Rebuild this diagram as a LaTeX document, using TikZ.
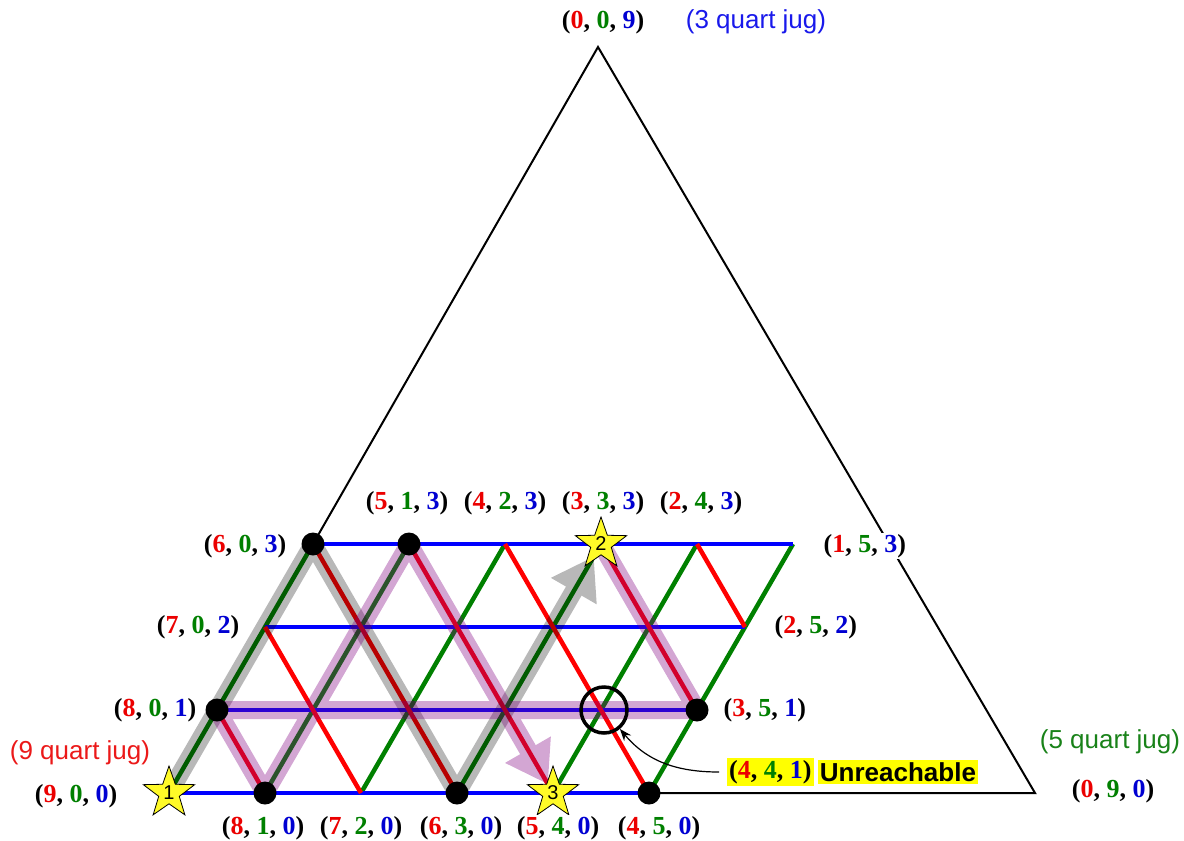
\documentclass[tikz,border=0pt]{standalone}
\usepackage{fontspec}
\setmainfont{Liberation Serif}
\newfontfamily\arialf{Liberation Sans}
\usetikzlibrary{shapes.geometric,arrows.meta,calc}
\definecolor{lblue}{RGB}{0,0,255}
\definecolor{lred}{RGB}{255,0,0}
\definecolor{lgreen}{RGB}{0,128,0}
\definecolor{tred}{RGB}{235,0,0}
\definecolor{tgreen}{RGB}{0,128,0}
\definecolor{tblue}{RGB}{0,0,210}
\definecolor{jblue}{RGB}{25,25,235}
\definecolor{jred}{RGB}{235,25,25}
\definecolor{jgreen}{RGB}{25,130,25}
\definecolor{hpurple}{RGB}{128,0,128}
\definecolor{hlyellow}{RGB}{255,255,0}
\definecolor{staryellow}{RGB}{255,250,40}
\newcommand{\tupl}[3]{\textbf{(\textcolor{tred}{#1}, \textcolor{tgreen}{#2}, \textcolor{tblue}{#3})}}
\begin{document}
\begin{tikzpicture}[x=1pt,y=-1pt,
  bl/.style={lblue,line width=4.5pt},
  gl/.style={lgreen,line width=4.5pt},
  rl/.style={lred,line width=4.5pt},
  band/.style={line width=18pt,line join=round},
  dot/.style={circle,fill=black,minimum size=23pt,inner sep=0pt},
  numstar/.style={star,star points=5,star point ratio=2.5,minimum size=54pt,inner sep=0pt,fill=staryellow,draw=black,line width=0.8pt,font=\arialf\fontsize{20}{20}\selectfont},
  tuplbl/.style={font=\fontsize{26}{30}\selectfont,inner sep=1.5pt,fill=white},
  jug/.style={font=\arialf\fontsize{26}{30}\selectfont,inner sep=0pt},
  hl/.style={fill=hlyellow,inner sep=2pt,font=\fontsize{26}{30}\selectfont},
]
\useasboundingbox (0,0) rectangle (1184,841);
% lattice points (a,b,c)
\foreach \b in {0,...,5} {
  \foreach \c in {0,...,3} {
    \pgfmathtruncatemacro\a{9-\b-\c}
    \coordinate (p\a\b\c) at ({169+96*\b+48*\c},{793-83*\c});
  }
}
\coordinate (apex) at (598,47);
\coordinate (corner) at (1035,793);

% big triangle
\draw[black,line width=2pt] (p603) -- (apex) -- (corner) -- (p450);

% green lines (constant b)
\draw[gl] (p900) -- (p603);
\draw[gl] (p810) -- (p513);
\draw[gl] (p720) -- (p423);
\draw[gl] (p630) -- (p333);
\draw[gl] (p540) -- (p243);
\draw[gl] (p450) -- (p153);
% blue lines (constant c)
\draw[bl] (p900) -- (p450);
\draw[bl] (p801) -- (p351);
\draw[bl] (p702) -- (p252);
\draw[bl] (p603) -- (p153);
% red lines (constant a)
\draw[rl] (p810) -- (p801);
\draw[rl] (p720) -- (p702);
\draw[rl] (p630) -- (p603);
\draw[rl] (p540) -- (p513);
\draw[rl] (p450) -- (p423);
\draw[rl] (p351) -- (p333);
\draw[rl] (p252) -- (p243);

% highlighted solution paths
\coordinate (gend) at ($(p630)!0.95!(p333)$);
\coordinate (pend) at ($(p513)!0.965!(p540)$);
\begin{scope}[transparency group,opacity=0.28]
  \draw[band,black,-{Triangle[length=40pt,width=50pt]}] (p900) -- (p603) -- (p630) -- (gend);
\end{scope}
\begin{scope}[transparency group,opacity=0.35]
  \draw[band,hpurple,-{Triangle[length=40pt,width=50pt]}] (p333) -- (p351) -- (p801) -- (p810) -- (p513) -- (pend);
\end{scope}

% reachable states
\foreach \p in {p603,p513,p801,p351,p810,p630,p450} {
  \node[dot] (d\p) at (\p) {};
}
\node[numstar] (s1) at (p900) {1};
\node[numstar] (s2) at (p333) {2};
\node[numstar] (s3) at (p540) {3};

% unreachable state
\node[circle,draw=black,line width=3.5pt,minimum size=46pt,inner sep=0pt] (u441) at ($(p441)+(3,0)$) {};

% labels
\node[tuplbl] (l009) at (603,22) {\tupl{0}{0}{9}};
\node[jug,text=jblue] (j3) at (756,22) {(3 quart jug)};
\node[jug,text=jred] (j9) at (80,753) {(9 quart jug)};
\node[jug,text=jgreen] (j5) at (1110,742) {(5 quart jug)};
\node[tuplbl] (l090) at (1113,791) {\tupl{0}{9}{0}};

\node[tuplbl] (l513) at ($(p513)+(-2,-41)$) {\tupl{5}{1}{3}};
\node[tuplbl] (l423) at ($(p423)+(0,-41)$) {\tupl{4}{2}{3}};
\node[tuplbl] (l333) at ($(p333)+(2,-41)$) {\tupl{3}{3}{3}};
\node[tuplbl] (l243) at ($(p243)+(4,-41)$) {\tupl{2}{4}{3}};

\node[tuplbl,anchor=east] (l603) at ($(p603)+(-25,2)$) {\tupl{6}{0}{3}};
\node[tuplbl,anchor=east] (l702) at ($(p702)+(-24,0)$) {\tupl{7}{0}{2}};
\node[tuplbl,anchor=east] (l801) at ($(p801)+(-19,0)$) {\tupl{8}{0}{1}};
\node[tuplbl,anchor=east] (l900) at ($(p900)+(-50,3)$) {\tupl{9}{0}{0}};

\node[tuplbl,anchor=west] (l153) at ($(p153)+(29,2)$) {\tupl{1}{5}{3}};
\node[tuplbl,anchor=west] (l252) at ($(p252)+(28,0)$) {\tupl{2}{5}{2}};
\node[tuplbl,anchor=west] (l351) at ($(p351)+(25,0)$) {\tupl{3}{5}{1}};

\node[tuplbl] (l810) at (263,828) {\tupl{8}{1}{0}};
\node[tuplbl] (l720) at (361,828) {\tupl{7}{2}{0}};
\node[tuplbl] (l630) at (461,828) {\tupl{6}{3}{0}};
\node[tuplbl] (l540) at (558,828) {\tupl{5}{4}{0}};
\node[tuplbl] (l450) at (659,828) {\tupl{4}{5}{0}};

% annotation
\node[hl,anchor=west] (a441) at (727,772) {\tupl{4}{4}{1}};
\node[hl,anchor=west,font=\arialf\bfseries\fontsize{26}{30}\selectfont] (unr) at ($(a441.east)+(4,0)$) {Unreachable};
\draw[black,line width=1.2pt,-{Stealth[length=12pt,width=9pt]}] ($(a441.west)+(-8,0)$) to[out=180,in=-50] (u441.-50);
\end{tikzpicture}
\end{document}
